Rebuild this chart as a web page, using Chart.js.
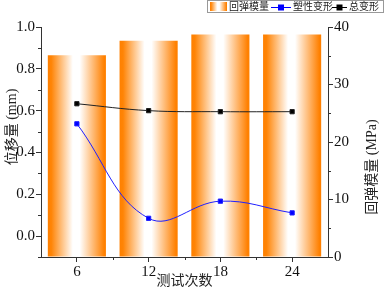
<!DOCTYPE html>
<html>
<head>
<meta charset="utf-8">
<script src="https://cdn.jsdelivr.net/npm/chart.js@4"></script>
<style>
  html, body { margin: 0; padding: 0; background: #fff; }
</style>
</head>
<body>
<canvas id="chart" width="384" height="290"></canvas>
<script>
// ===== DATA =====
const tests = ['6', '12', '18', '24'];
const modulus = [35.1, 37.6, 38.7, 38.7];      // 回弹模量 (MPa), right axis
const plastic = [0.537, 0.085, 0.167, 0.111];  // 塑性变形 (mm)
const total = [0.633, 0.600, 0.595, 0.595];    // 总变形 (mm)
const leftTicks = [0, 0.2, 0.4, 0.6, 0.8, 1.0];
const leftMinor = [-0.1, 0.1, 0.3, 0.5, 0.7, 0.9];
const rightTicks = [0, 10, 20, 30, 40];
const rightMinor = [5, 15, 25, 35];
const leftTitle = '位移量 (mm)';
const rightTitle = '回弹模量 (MPa)';

// ===== STYLE =====
const SERIF = "'Liberation Serif', 'Noto Sans CJK SC', serif";
const ORANGE = '#ff8000';
const AXIS = '#333';
const BAR_PCT = 0.81;

function orangeGradient(c, x0, x1) {
    const g = c.createLinearGradient(x0, 0, x1, 0);
    g.addColorStop(0, ORANGE);
    g.addColorStop(0.06, '#ff8405');
    g.addColorStop(0.43, '#ffffff');
    g.addColorStop(0.55, '#ffffff');
    g.addColorStop(0.97, ORANGE);
    g.addColorStop(1, ORANGE);
    return g;
}

function barFill(ctx) {
    const chart = ctx.chart;
    const xs = chart.scales.x;
    if (!xs || ctx.dataIndex === undefined) return ORANGE;
    const cx = xs.getPixelForValue(ctx.dataIndex);
    if (!isFinite(cx)) return ORANGE;
    const w = BAR_PCT * xs.width / tests.length;
    return orangeGradient(chart.ctx, cx - w / 2, cx + w / 2);
}

// ===== MINOR TICKS, Y TITLES, LEGEND =====
const extras = {
    id: 'extras',
    afterDraw(chart) {
        const c = chart.ctx;
        const { x, y, y1 } = chart.scales;
        const area = chart.chartArea;
        c.save();
        c.strokeStyle = AXIS;
        c.lineWidth = 1;
        c.beginPath();
        for (let i = 0; i < tests.length - 1; i++) {
            const px = Math.round((x.getPixelForValue(i) + x.getPixelForValue(i + 1)) / 2) + 0.5;
            c.moveTo(px, area.bottom);
            c.lineTo(px, area.bottom + 3);
        }
        leftMinor.forEach(v => {
            const py = Math.round(y.getPixelForValue(v)) + 0.5;
            c.moveTo(area.left - 3, py);
            c.lineTo(area.left, py);
        });
        rightMinor.forEach(v => {
            const py = Math.round(y1.getPixelForValue(v)) + 0.5;
            c.moveTo(area.right, py);
            c.lineTo(area.right + 3, py);
        });
        c.stroke();

        // y titles, both read bottom-to-top
        c.fillStyle = '#222';
        c.font = '14px ' + SERIF;
        c.textAlign = 'center';
        c.textBaseline = 'middle';
        [[12, 127, leftTitle], [372, 167, rightTitle]].forEach(([tx, ty, t]) => {
            c.save();
            c.translate(tx, ty);
            c.rotate(-Math.PI / 2);
            c.fillText(t, 0, 0);
            c.restore();
        });

        // legend box
        const ds = chart.data.datasets;
        c.textAlign = 'left';
        c.strokeStyle = '#999';
        c.strokeRect(207.5, 0.5, 176, 12);
        c.font = '10px ' + SERIF;
        const ty = 7;
        c.fillStyle = orangeGradient(c, 210, 227);
        c.fillRect(210, 2, 17, 9);
        c.fillStyle = '#222';
        c.fillText(ds[0].label, 229, ty);
        const drawLineItem = (x0, x1, color, label) => {
            c.strokeStyle = color;
            c.beginPath();
            c.moveTo(x0, ty + 0.5);
            c.lineTo(x1, ty + 0.5);
            c.stroke();
            c.fillStyle = color;
            const mx = (x0 + x1) / 2;
            c.fillRect(mx - 3, ty - 2.5, 6, 6);
            c.fillStyle = '#222';
            c.fillText(label, x1 + 2, ty);
        };
        drawLineItem(271, 291, '#0000ff', ds[1].label);
        drawLineItem(332, 347, '#000000', ds[2].label);
        c.restore();
    }
};

// ===== CHART =====
const chart = new Chart(document.getElementById('chart'), {
    data: {
        labels: tests,
        datasets: [
            {
                type: 'bar',
                label: '回弹模量',
                data: modulus,
                yAxisID: 'y1',
                backgroundColor: barFill,
                borderWidth: 0,
                barPercentage: BAR_PCT,
                categoryPercentage: 1,
                order: 3
            },
            {
                type: 'line',
                label: '塑性变形',
                data: plastic,
                yAxisID: 'y',
                borderColor: '#2020ff',
                backgroundColor: '#0000ff',
                borderWidth: 1,
                pointStyle: 'rect',
                pointRadius: 3,
                tension: 0.4,
                order: 1
            },
            {
                type: 'line',
                label: '总变形',
                data: total,
                yAxisID: 'y',
                borderColor: '#222',
                backgroundColor: '#000',
                borderWidth: 1,
                pointStyle: 'rect',
                pointRadius: 3,
                tension: 0.4,
                order: 2
            }
        ]
    },
    options: {
        responsive: false,
        animation: false,
        layout: { padding: { top: 27, left: 0, right: 0, bottom: 0 } },
        plugins: {
            legend: { display: false },
            tooltip: { enabled: false }
        },
        scales: {
            x: {
                type: 'category',
                offset: true,
                grid: { display: true, offset: false, drawOnChartArea: false, tickLength: 5, tickColor: AXIS },
                border: { color: AXIS },
                ticks: { color: '#111', font: { family: SERIF, size: 15 }, padding: 1, maxRotation: 0 },
                title: { display: true, text: '测试次数', color: '#222', font: { family: SERIF, size: 14 }, padding: { top: -3, bottom: 0 } },
                afterFit(s) { s.height = 33; }
            },
            y: {
                position: 'left',
                min: -0.1,
                max: 1.0,
                afterBuildTicks(s) { s.ticks = leftTicks.map(v => ({ value: v })); },
                grid: { drawOnChartArea: false, tickLength: 5, tickColor: AXIS },
                border: { color: AXIS },
                ticks: { color: '#111', font: { family: SERIF, size: 15 }, padding: 1, callback: v => Number(v).toFixed(1) },
                afterFit(s) { s.width = 41; }
            },
            y1: {
                position: 'right',
                min: 0,
                max: 40,
                afterBuildTicks(s) { s.ticks = rightTicks.map(v => ({ value: v })); },
                grid: { drawOnChartArea: false, tickLength: 5, tickColor: AXIS },
                border: { color: AXIS },
                ticks: { color: '#111', font: { family: SERIF, size: 15 }, padding: 1 },
                afterFit(s) { s.width = 56; }
            }
        }
    },
    plugins: [extras]
});
</script>
</body>
</html>
